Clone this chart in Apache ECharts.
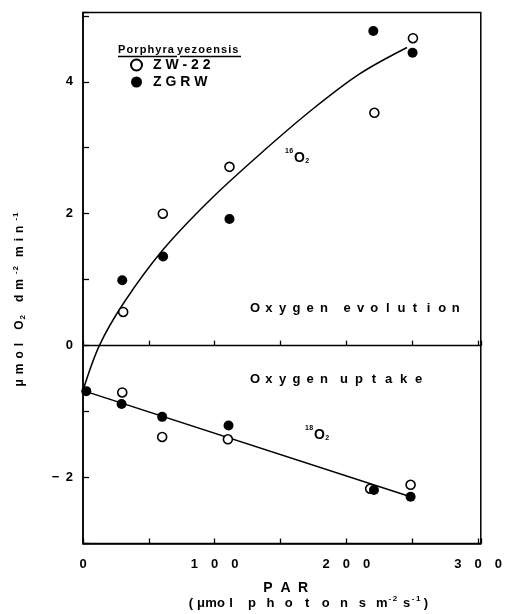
<!DOCTYPE html>
<html><head><meta charset="utf-8">
<script src="https://cdn.jsdelivr.net/npm/echarts@6/dist/echarts.min.js"></script>
<style>html,body{margin:0;padding:0;background:#fff}#c{width:505px;height:614px}</style>
</head><body><div id="c"></div>
<script>
// ---- data ----
const seriesNames = ['ZW-22', 'ZGRW'];
// ZW-22 (open circles)
const zw22 = [
  [-1.2, -0.70], [30.5, 0.51], [60.6, 2.00], [111.2, 2.71], [221.2, 3.53], [250.5, 4.66],
  [29.8, -0.71], [60.1, -1.385], [110.0, -1.42], [218.0, -2.17], [248.7, -2.11]
];
// ZGRW (filled circles)
const zgrw = [
  [2.5, -0.69], [29.8, 0.99], [60.8, 1.35], [111.2, 1.92], [220.4, 4.77], [250.2, 4.44],
  [29.3, -0.885], [60.1, -1.08], [110.5, -1.21], [220.9, -2.19], [248.7, -2.29]
];
// fitted curves drawn in the figure
const evolutionCurve = [
  [0, -0.68], [12.4, 0], [31, 0.65], [61, 1.46], [97, 2.22], [137, 2.95],
  [174, 3.58], [210, 4.12], [246, 4.52]
];
const uptakeLine = [[1.3, -0.69], [248.7, -2.29]];
const xTickLabels = [0, 100, 200, 300];
const yTickLabels = [-2, 0, 2, 4];

const FONT = 'Liberation Sans';
const sp = (s, sep) => String(s).split('').join(sep);

// --- text helpers ---
const ctx = document.createElement('canvas').getContext('2d');
function measure(ch, font) { ctx.font = font; return ctx.measureText(ch).width; }
function txt(ch, x, y, font, align) {
  return {type: 'text', x, y, silent: true,
    style: {text: ch, font, fill: '#000', textAlign: align || 'center', align: align || 'center',
            textVerticalAlign: 'middle', verticalAlign: 'middle'}};
}
// typewriter-style: each char centred on a fixed pitch
function mono(str, cx0, y, pitch, font) {
  const out = [];
  Array.from(str).forEach((ch, i) => { if (ch !== ' ') out.push(txt(ch, cx0 + i * pitch, y, font)); });
  return out;
}
// proportional with extra spacing; segs: [{s, small?, dy?, extra?, gap?}]
function spaced(segs, baseFont, smallFont, extra) {
  const els = [];
  let x = 0;
  segs.forEach(seg => {
    if (seg.gap !== undefined) { x += seg.gap; return; }
    const f = seg.small ? smallFont : baseFont;
    const ex = seg.extra !== undefined ? seg.extra : extra;
    for (const ch of seg.s) {
      const w = measure(ch, f);
      els.push({ch, x, dy: seg.dy || 0, font: f});
      x += w + ex;
    }
  });
  return {width: x, make: (ox, oy) => els.map(e => txt(e.ch, ox + e.x, oy + e.dy, e.font, 'left'))};
}
const B13 = 'bold 13px ' + FONT, B12 = 'bold 12px ' + FONT, B14 = 'bold 14px ' + FONT,
      S8 = 'bold 8px ' + FONT, S7 = 'bold 7px ' + FONT, B11 = 'bold 11px ' + FONT;

const gEls = [];
// Oxygen evolution / uptake
gEls.push(...mono('Oxygen', 255, 308, 13.8, B13), ...mono('evolution', 347, 308, 13.6, B13));
gEls.push(...mono('Oxygen', 255, 379, 13.8, B13), ...mono('uptake', 344, 379, 14.9, B13));
// isotope labels
gEls.push(...spaced([{s: '16', small: true, dy: -7, extra: 0.3}, {gap: 0.5}, {s: 'O', extra: 0.5}, {s: '2', small: true, dy: 3}], B14, S7, 0).make(285, 158));
gEls.push(...spaced([{s: '18', small: true, dy: -7, extra: 0.3}, {gap: 0.5}, {s: 'O', extra: 0.5}, {s: '2', small: true, dy: 3}], B14, S7, 0).make(305, 435));
// legend title
gEls.push(...spaced([{s: 'Porphyra'}, {gap: 2}, {s: 'yezoensis'}], B11, S8, 1.1).make(118, 50));
gEls.push({type: 'line', shape: {x1: 118, y1: 56.5, x2: 177, y2: 56.5}, style: {stroke: '#000', lineWidth: 1.3}});
gEls.push({type: 'line', shape: {x1: 180, y1: 56.5, x2: 241, y2: 56.5}, style: {stroke: '#000', lineWidth: 1.3}});
// x axis title
gEls.push(...mono('PAR', 268, 588, 17.5, B14));
gEls.push(...mono('(μmol', 191, 603, 10, B13));
gEls.push(...mono('photons', 252, 603, 18.4, B13));
gEls.push(...spaced([{s: 'm', extra: 1}, {s: '-2', small: true, dy: -4, extra: 1.5}], B13, S8, 0).make(376, 603));
gEls.push(...spaced([{s: 's', extra: 1.5}, {s: '-1', small: true, dy: -4, extra: 1.5}, {gap: 2}, {s: ')'}], B13, S8, 0).make(403, 603));
// y axis title (rotated)
const yt = spaced([{s: 'μmol'}, {gap: 8}, {s: 'O', extra: 1}, {s: '2', small: true, dy: 3}, {gap: 8},
                   {s: 'dm'}, {s: '-2', small: true, dy: -4, extra: 1}, {gap: 8}, {s: 'min'}, {s: '-1', small: true, dy: -4, extra: 1}],
                  B12, S8, 5);
gEls.push({type: 'group', x: 20, y: 299, rotation: Math.PI / 2, children: yt.make(-yt.width / 2, 0)});

const chart = echarts.init(document.getElementById('c'), null, {renderer: 'canvas'});
chart.setOption({
  animation: false,
  backgroundColor: '#fff',
  grid: {left: 83, right: 16.5, top: 12.5, bottom: 70.5, show: true, borderColor: '#000', borderWidth: 1.5, backgroundColor: 'transparent'},
  xAxis: [{
    type: 'value', min: 0, max: 302, interval: 50, position: 'bottom',
    axisLine: {onZero: false, lineStyle: {color: '#000', width: 1.5}},
    axisTick: {inside: true, length: 5, lineStyle: {color: '#000', width: 1.3}},
    splitLine: {show: false},
    axisLabel: {
      margin: 14, color: '#000', fontFamily: FONT, fontWeight: 'bold', fontSize: 13,
      formatter: v => xTickLabels.indexOf(v) >= 0 ? sp(v, '\u2003') : ''
    }
  }, {
    type: 'value', min: 0, max: 302, interval: 50, position: 'top',
    axisLine: {onZero: true, lineStyle: {color: '#000', width: 1.3}},
    axisTick: {inside: false, length: 5, lineStyle: {color: '#000', width: 1.3}},
    axisLabel: {show: false}, splitLine: {show: false}
  }],
  yAxis: {
    type: 'value', min: -3, max: 5.05, interval: 1,
    axisLine: {lineStyle: {color: '#000', width: 1.5}},
    axisTick: {inside: true, length: 6, lineStyle: {color: '#000', width: 1.3}},
    splitLine: {show: false},
    axisLabel: {
      margin: 10, color: '#000', fontFamily: FONT, fontWeight: 'bold', fontSize: 13,
      formatter: v => yTickLabels.indexOf(v) >= 0 ? (v < 0 ? '\u2212\u2002' + Math.abs(v) : String(v)) : ''
    }
  },
  legend: {
    data: seriesNames, orient: 'vertical', left: 126, top: 54, itemGap: 3, padding: 4,
    itemWidth: 11, itemHeight: 11, icon: 'circle',
    formatter: n => sp(n, ' '),
    textStyle: {color: '#000', fontFamily: FONT, fontWeight: 'bold', fontSize: 14, padding: [0, 0, 0, 6]}
  },
  series: [
    {type: 'line', data: evolutionCurve, smooth: 0.33, showSymbol: false, silent: true,
     lineStyle: {color: '#000', width: 1.5}, z: 2},
    {type: 'line', data: uptakeLine, showSymbol: false, silent: true,
     lineStyle: {color: '#000', width: 1.5}, z: 2},
    {name: 'ZW-22', type: 'scatter', data: zw22, symbol: 'circle', symbolSize: 9,
     itemStyle: {color: '#fff', borderColor: '#000', borderWidth: 1.6, opacity: 1}, z: 3},
    {name: 'ZGRW', type: 'scatter', data: zgrw, symbol: 'circle', symbolSize: 10,
     itemStyle: {color: '#000', borderColor: '#000', borderWidth: 0, opacity: 1}, z: 4}
  ],
  graphic: gEls
});
</script></body></html>
